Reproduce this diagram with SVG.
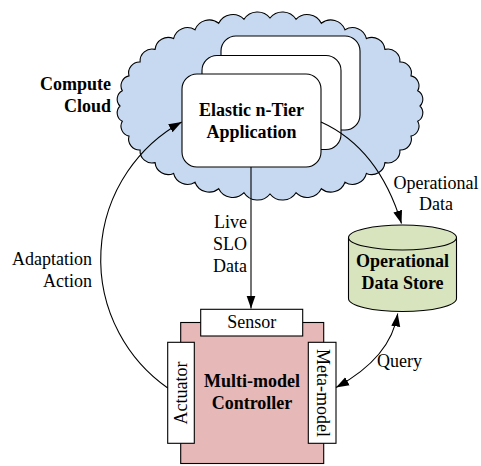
<svg xmlns="http://www.w3.org/2000/svg" width="481" height="466" viewBox="0 0 481 466">
  <style>
    text { font-family: 'Liberation Serif', 'DejaVu Serif', serif; font-size: 18px; fill: #000; }
    .bold { font-weight: bold; }
    .mid { text-anchor: middle; }
    .end { text-anchor: end; }
    .edge { fill: none; stroke: #000; stroke-width: 1.1; }
    .box { stroke: #000; stroke-width: 1.1; }
  </style>
  <defs>
    <marker id="arrow" markerUnits="userSpaceOnUse" markerWidth="14" markerHeight="10" refX="13" refY="5" orient="auto-start-reverse" viewBox="0 0 14 10">
      <path d="M0,0.5 L13,5 L0,9.5 Z" fill="#000"/>
    </marker>
  </defs>
  <rect width="481" height="466" fill="#fff"/>

  <!-- compute cloud -->
  <g id="cloud">
    <path class="box" fill="#c6d9f0" d="M420,106 A9.6,9.6 0 0 1 417.7,121.3 A10.1,10.1 0 0 1 411,136.1 A11,11 0 0 1 399.9,150 A12,12 0 0 1 384.9,162.6 A13.1,13.1 0 0 1 366.4,173.4 A14.2,14.2 0 0 1 345,182.2 A15.1,15.1 0 0 1 321.3,188.7 A15.7,15.7 0 0 1 296,192.7 A16,16 0 0 1 270,194 A16,16 0 0 1 244,192.7 A15.7,15.7 0 0 1 218.7,188.7 A15.1,15.1 0 0 1 195,182.2 A14.2,14.2 0 0 1 173.6,173.4 A13.1,13.1 0 0 1 155.1,162.6 A12,12 0 0 1 140.1,150 A11,11 0 0 1 129,136.1 A10.1,10.1 0 0 1 122.3,121.3 A9.6,9.6 0 0 1 120,106 A9.6,9.6 0 0 1 122.3,90.7 A10.1,10.1 0 0 1 129,75.9 A11,11 0 0 1 140.1,62 A12,12 0 0 1 155.1,49.4 A13.1,13.1 0 0 1 173.6,38.6 A14.2,14.2 0 0 1 195,29.8 A15.1,15.1 0 0 1 218.7,23.3 A15.7,15.7 0 0 1 244,19.3 A16,16 0 0 1 270,18 A16,16 0 0 1 296,19.3 A15.7,15.7 0 0 1 321.3,23.3 A15.1,15.1 0 0 1 345,29.8 A14.2,14.2 0 0 1 366.4,38.6 A13.1,13.1 0 0 1 384.9,49.4 A12,12 0 0 1 399.9,62 A11,11 0 0 1 411,75.9 A10.1,10.1 0 0 1 417.7,90.7 A9.6,9.6 0 0 1 420,106 Z"/>
    <text class="bold end" x="111" y="90">Compute</text>
    <text class="bold end" x="111" y="112">Cloud</text>
  </g>

  <!-- stacked application tiers -->
  <g id="app">
    <rect class="box" fill="#fff" x="221" y="36" width="139" height="94" rx="15"/>
    <rect class="box" fill="#fff" x="202" y="55.5" width="139" height="94" rx="15"/>
    <rect class="box" fill="#fff" x="182" y="74" width="139" height="93" rx="15"/>
    <text class="bold mid" x="251.5" y="116">Elastic n-Tier</text>
    <text class="bold mid" x="251.5" y="138">Application</text>
  </g>

  <!-- data store cylinder -->
  <g id="store">
    <path class="box" fill="#d7e4bd" d="M348.5,237.5 L348.5,298.5 A54,13 0 0 0 456.5,298.5 L456.5,237.5 A54,12.5 0 0 0 348.5,237.5 Z"/>
    <path class="edge" d="M348.5,237.5 A54,12.5 0 0 0 456.5,237.5"/>
    <text class="bold mid" x="402.5" y="267">Operational</text>
    <text class="bold mid" x="402.5" y="289">Data Store</text>
  </g>

  <!-- controller with its ports -->
  <g id="controller">
    <rect class="box" fill="#e6b9b8" x="180.7" y="322.5" width="143" height="141"/>
    <text class="bold mid" x="252" y="387">Multi-model</text>
    <text class="bold mid" x="252" y="409">Controller</text>
  </g>
  <g id="sensor">
    <rect class="box" fill="#fff" x="200.7" y="309.3" width="102" height="26.7"/>
    <text class="mid" x="251.7" y="327.5">Sensor</text>
  </g>
  <g id="actuator">
    <rect class="box" fill="#fff" x="167.7" y="342.3" width="26.6" height="101"/>
    <text class="mid" transform="translate(187.3,393) rotate(-90)">Actuator</text>
  </g>
  <g id="metamodel">
    <rect class="box" fill="#fff" x="308.3" y="342.3" width="27.7" height="101"/>
    <text class="mid" transform="translate(316.5,393) rotate(90)">Meta-model</text>
  </g>

  <!-- connectors -->
  <g id="connectors">
    <path class="edge" d="M251,167 L251,308.5" marker-end="url(#arrow)"/>
    <path class="edge" d="M321,122 Q378.5,148 401.5,223.5" marker-end="url(#arrow)"/>
    <path class="edge" d="M167.7,388 A157,157 0 0 1 181.7,122" marker-end="url(#arrow)"/>
    <path class="edge" d="M397.7,313.5 Q391,357.5 336,387.5" marker-start="url(#arrow)" marker-end="url(#arrow)"/>
    <text class="end" x="247" y="228">Live</text>
    <text class="end" x="247" y="250">SLO</text>
    <text class="end" x="247" y="272">Data</text>
    <text class="mid" x="436" y="189">Operational</text>
    <text class="mid" x="436" y="210">Data</text>
    <text class="end" x="92" y="265">Adaptation</text>
    <text class="end" x="92" y="287">Action</text>
    <text x="377" y="367">Query</text>
  </g>
</svg>
